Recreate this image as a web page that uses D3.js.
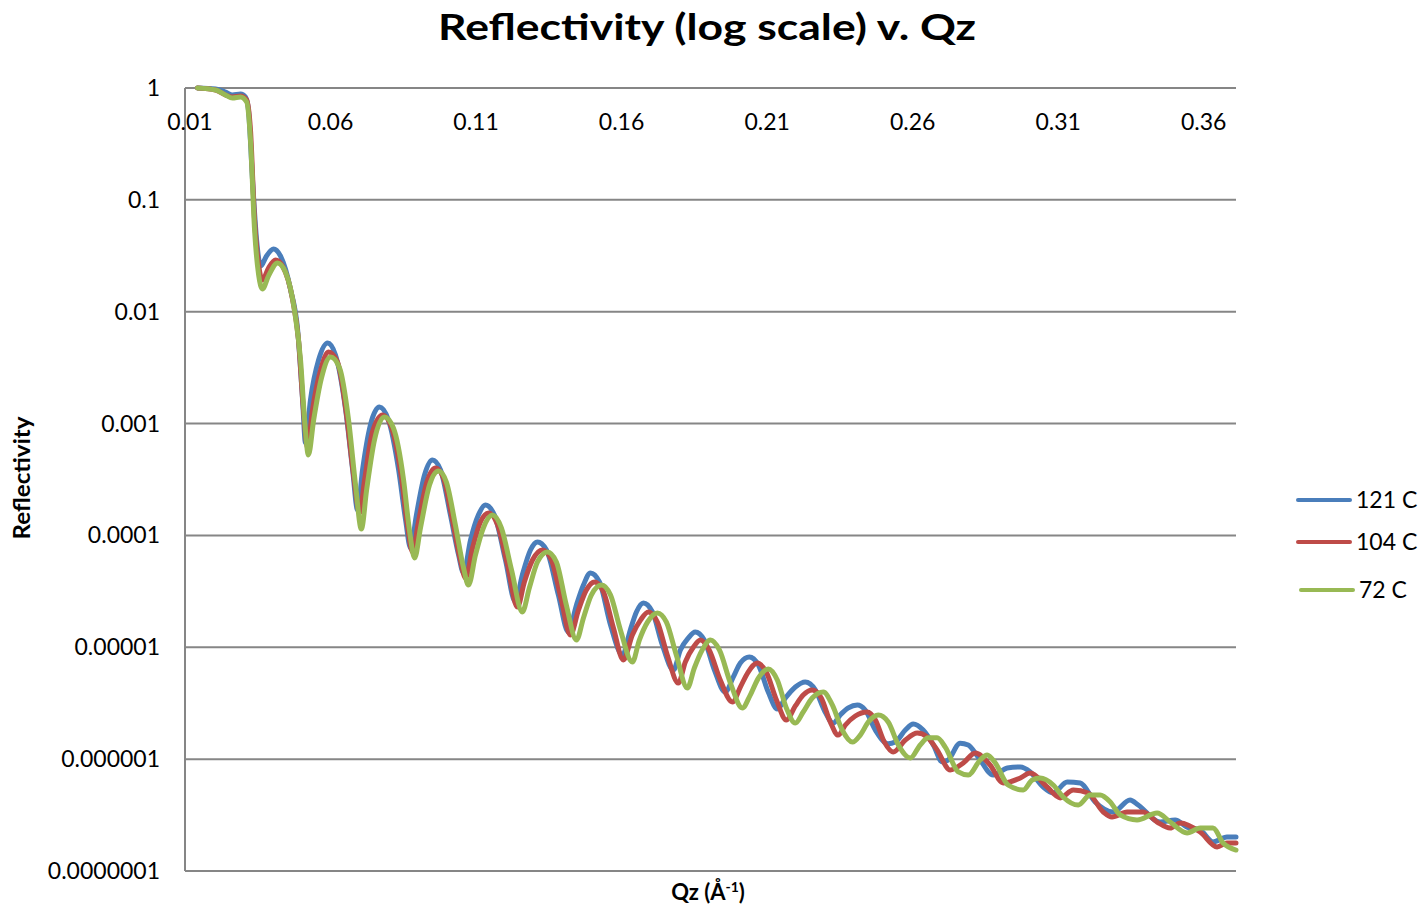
<!DOCTYPE html>
<html>
<head>
<meta charset="utf-8">
<script src="https://cdn.jsdelivr.net/npm/d3@7/dist/d3.min.js"></script>
<style>
    body { margin: 0; background: #fff; }
    text { font-family: Lato, "Open Sans", sans-serif; fill: #000; }
</style>
</head>
<body>
<div id="chart"></div>
<script>
    const width = 1424, height = 907;

    // series: [Qz, reflectivity]
    const seriesNames = ["121 C", "104 C", "72 C"];
    const seriesColors = ["#4a7ebb", "#be4b48", "#98b954"];

    const data121 = [
        [0.0143,1],[0.0205,0.98],[0.0239,0.92],[0.0263,0.866],[0.0291,0.884],[0.0308,0.831],[0.0318,0.636],
        [0.0332,0.1505],[0.0346,0.0438],[0.0360,0.0256],[0.0380,0.0315],[0.0404,0.0364],[0.0428,0.0315],
        [0.0463,0.01564],[0.0487,0.00686],[0.0504,0.001625],[0.0514,0.000671],[0.0531,0.001625],[0.0559,0.0037],
        [0.0590,0.00525],[0.0617,0.0041],[0.0652,0.001322],[0.0676,0.000385],[0.0693,0.000169],[0.0710,0.000385],
        [0.0737,0.000971],[0.0768,0.001406],[0.0799,0.001076],[0.0834,0.000385],[0.0858,0.000137],[0.0875,7.72e-5],
        [0.0895,0.000152],[0.0923,0.000347],[0.0950,0.000472],[0.0978,0.000385],[0.1012,0.000152],[0.1040,6.69e-5],
        [0.1057,4.62e-5],[0.1081,9.10e-5],[0.1108,0.000152],[0.1132,0.000187],[0.1163,0.000152],[0.1201,6.03e-5],
        [0.1235,2.54e-5],[0.1259,4.43e-5],[0.1287,7.41e-5],[0.1311,8.73e-5],[0.1342,7.41e-5],[0.1383,2.93e-5],
        [0.1417,1.37e-5],[0.1445,2.39e-5],[0.1469,3.60e-5],[0.1493,4.62e-5],[0.1524,3.84e-5],[0.1562,1.58e-5],
        [0.1603,8.53e-6],[0.1630,1.43e-5],[0.1651,2.07e-5],[0.1675,2.49e-5],[0.1706,2.07e-5],[0.1740,1.05e-5],
        [0.1778,6.27e-6],[0.1802,9.46e-6],[0.1829,1.21e-5],[0.1853,1.37e-5],[0.1884,1.16e-5],[0.1919,6.27e-6],
        [0.1956,3.98e-6],[0.1984,5.43e-6],[0.2008,7.24e-6],[0.2039,8.19e-6],[0.2070,6.95e-6],[0.2104,3.98e-6],
        [0.2135,2.81e-6],[0.2163,3.52e-6],[0.2197,4.41e-6],[0.2231,4.89e-6],[0.2266,4.15e-6],[0.2296,2.75e-6],
        [0.2327,2.10e-6],[0.2351,2.48e-6],[0.2379,2.87e-6],[0.2410,3.05e-6],[0.2437,2.75e-6],[0.2472,1.82e-6],
        [0.2516,1.37e-6],[0.2540,1.42e-6],[0.2575,1.82e-6],[0.2602,2.06e-6],[0.2636,1.82e-6],[0.2671,1.34e-6],
        [0.2702,9.43e-7],[0.2722,9.83e-7],[0.2763,1.39e-6],[0.2791,1.34e-6],[0.2825,1.045e-6],[0.2877,7.21e-7],
        [0.2925,8.34e-7],[0.2970,8.51e-7],[0.3004,7.68e-7],[0.3048,5.64e-7],[0.3083,4.98e-7],[0.3131,6.25e-7],
        [0.3176,6.12e-7],[0.3227,4.14e-7],[0.3289,3.37e-7],[0.3347,4.31e-7],[0.3375,3.89e-7],[0.3450,2.74e-7],
        [0.3502,2.86e-7],[0.3543,2.47e-7],[0.3588,2.32e-7],[0.3632,1.82e-7],[0.3680,2.01e-7],[0.3711,2.01e-7]
    ];

    const data104 = [
        [0.0143,1],[0.0205,0.96],[0.0239,0.866],[0.0263,0.831],[0.0291,0.848],[0.0312,0.781],[0.0325,0.421],
        [0.0339,0.0661],[0.0353,0.0262],[0.0366,0.0192],[0.0387,0.0246],[0.0411,0.0290],[0.0435,0.0256],
        [0.0470,0.01273],[0.0490,0.00559],[0.0507,0.001322],[0.0521,0.000618],[0.0538,0.001322],[0.0566,0.00301],
        [0.0593,0.00436],[0.0624,0.00355],[0.0655,0.001193],[0.0679,0.000347],[0.0700,0.000159],[0.0717,0.000313],
        [0.0744,0.000841],[0.0779,0.001193],[0.0810,0.000913],[0.0844,0.000326],[0.0864,0.000124],[0.0882,7.11e-5],
        [0.0902,0.000132],[0.0930,0.000294],[0.0961,0.000401],[0.0988,0.000326],[0.1019,0.000137],[0.1046,6.03e-5],
        [0.1064,4.16e-5],[0.1088,7.72e-5],[0.1115,0.000132],[0.1143,0.000159],[0.1174,0.000124],[0.1208,5.44e-5],
        [0.1242,2.29e-5],[0.1266,3.84e-5],[0.1294,6.03e-5],[0.1328,7.41e-5],[0.1359,6.03e-5],[0.1393,2.65e-5],
        [0.1424,1.29e-5],[0.1452,2.16e-5],[0.1479,3.25e-5],[0.1507,3.84e-5],[0.1538,3.12e-5],[0.1572,1.49e-5],
        [0.1606,7.70e-6],[0.1637,1.29e-5],[0.1665,1.75e-5],[0.1692,2.07e-5],[0.1723,1.68e-5],[0.1757,8.53e-6],
        [0.1795,4.79e-6],[0.1819,7.39e-6],[0.1847,1.006e-5],[0.1871,1.16e-5],[0.1901,9.46e-6],[0.1939,5.10e-6],
        [0.1981,3.24e-6],[0.2008,4.41e-6],[0.2035,6.01e-6],[0.2066,7.24e-6],[0.2097,6.01e-6],[0.2132,3.38e-6],
        [0.2166,2.24e-6],[0.2197,2.99e-6],[0.2224,3.74e-6],[0.2255,4.15e-6],[0.2286,3.52e-6],[0.2317,2.15e-6],
        [0.2344,1.64e-6],[0.2369,2.02e-6],[0.2403,2.43e-6],[0.2444,2.64e-6],[0.2472,2.24e-6],[0.2503,1.42e-6],
        [0.2533,1.16e-6],[0.2575,1.48e-6],[0.2616,1.71e-6],[0.2650,1.58e-6],[0.2684,1.21e-6],[0.2729,8.00e-7],
        [0.2774,9.24e-7],[0.2815,1.135e-6],[0.2866,8.87e-7],[0.2911,6.12e-7],[0.2970,6.78e-7],[0.3004,7.52e-7],
        [0.3062,5.64e-7],[0.3107,4.50e-7],[0.3152,5.30e-7],[0.3203,4.98e-7],[0.3255,3.37e-7],[0.3285,3.04e-7],
        [0.3337,3.37e-7],[0.3392,3.37e-7],[0.3440,2.74e-7],[0.3485,2.42e-7],[0.3519,2.69e-7],[0.3588,2.23e-7],
        [0.3646,1.64e-7],[0.3680,1.78e-7],[0.3711,1.78e-7]
    ];

    const data72 = [
        [0.0143,1],[0.0205,0.96],[0.0239,0.866],[0.0263,0.814],[0.0291,0.831],[0.0312,0.750],[0.0325,0.343],
        [0.0339,0.0538],[0.0353,0.0213],[0.0366,0.01596],[0.0387,0.0209],[0.0418,0.0273],[0.0445,0.0226],
        [0.0476,0.01036],[0.0497,0.0037],[0.0511,0.001076],[0.0524,0.000524],[0.0542,0.001076],[0.0569,0.00256],
        [0.0600,0.00394],[0.0631,0.00314],[0.0662,0.001076],[0.0686,0.000282],[0.0706,0.0001142],[0.0724,0.000255],
        [0.0751,0.000713],[0.0785,0.001145],[0.0816,0.000913],[0.0851,0.000313],[0.0871,0.0001118],[0.0889,6.29e-5],
        [0.0909,0.0001166],[0.0940,0.000282],[0.0971,0.000377],[0.0998,0.0003],[0.1029,0.000124],[0.1057,5.12e-5],
        [0.1074,3.60e-5],[0.1098,6.69e-5],[0.1125,0.0001166],[0.1156,0.000152],[0.1187,0.0001166],[0.1222,4.91e-5],
        [0.1259,2.07e-5],[0.1283,3.39e-5],[0.1311,5.79e-5],[0.1345,7.11e-5],[0.1376,5.79e-5],[0.1410,2.39e-5],
        [0.1445,1.16e-5],[0.1469,1.83e-5],[0.1496,2.93e-5],[0.1531,3.60e-5],[0.1562,2.93e-5],[0.1596,1.43e-5],
        [0.1637,7.39e-6],[0.1661,1.16e-5],[0.1689,1.68e-5],[0.1723,2.03e-5],[0.1754,1.68e-5],[0.1788,8.53e-6],
        [0.1826,4.33e-6],[0.1850,6.53e-6],[0.1877,9.46e-6],[0.1905,1.16e-5],[0.1936,9.46e-6],[0.1974,4.79e-6],
        [0.2015,2.87e-6],[0.2042,3.74e-6],[0.2070,5.31e-6],[0.2104,6.40e-6],[0.2135,5.10e-6],[0.2166,2.87e-6],
        [0.2197,2.10e-6],[0.2224,2.64e-6],[0.2255,3.52e-6],[0.2293,3.98e-6],[0.2324,3.05e-6],[0.2358,1.82e-6],
        [0.2393,1.42e-6],[0.2420,1.64e-6],[0.2448,2.15e-6],[0.2482,2.48e-6],[0.2516,2.15e-6],[0.2551,1.34e-6],
        [0.2592,1.024e-6],[0.2626,1.34e-6],[0.2654,1.55e-6],[0.2684,1.55e-6],[0.2712,1.28e-6],[0.2757,7.68e-7],
        [0.2791,7.21e-7],[0.2832,9.83e-7],[0.2856,1.09e-6],[0.2884,9.24e-7],[0.2928,5.87e-7],[0.2980,5.30e-7],
        [0.3011,6.51e-7],[0.3038,6.78e-7],[0.3083,5.87e-7],[0.3117,4.59e-7],[0.3169,3.89e-7],[0.3210,4.78e-7],
        [0.3244,4.78e-7],[0.3279,4.14e-7],[0.3313,3.17e-7],[0.3371,2.86e-7],[0.3440,3.30e-7],[0.3485,2.74e-7],
        [0.3543,2.19e-7],[0.3588,2.42e-7],[0.3632,2.42e-7],[0.3667,1.78e-7],[0.3711,1.54e-7]
    ];

    const seriesData = [data121, data104, data72];

    // axis ticks
    const xTicks = [0.01, 0.06, 0.11, 0.16, 0.21, 0.26, 0.31, 0.36];
    const yTicks = [1, 1e-1, 1e-2, 1e-3, 1e-4, 1e-5, 1e-6, 1e-7];
    const yTickLabels = ["1", "0.1", "0.01", "0.001", "0.0001", "0.00001", "0.000001", "0.0000001"];

    const plotLeft = 185, plotRight = 1236, plotTop = 88, plotBottom = 871;

    const svg = d3.select("#chart")
        .append("svg")
        .attr("width", width)
        .attr("height", height);

    const x = d3.scaleLinear().domain([0.01, 0.3711]).range([plotLeft, plotRight]);
    const y = d3.scaleLog().domain([1e-7, 1]).range([plotBottom, plotTop]);

    // horizontal gridlines
    svg.append("g")
        .selectAll("line")
        .data(yTicks)
        .enter().append("line")
        .attr("x1", plotLeft)
        .attr("x2", plotRight)
        .attr("y1", d => y(d))
        .attr("y2", d => y(d))
        .attr("stroke", "#868686")
        .attr("stroke-width", 2);

    // y axis line
    svg.append("line")
        .attr("x1", plotLeft).attr("x2", plotLeft)
        .attr("y1", plotTop).attr("y2", plotBottom)
        .attr("stroke", "#868686")
        .attr("stroke-width", 2);

    // y tick labels
    svg.append("g")
        .selectAll("text")
        .data(yTicks)
        .enter().append("text")
        .attr("x", 160)
        .attr("y", d => y(d) + 8)
        .attr("text-anchor", "end")
        .style("font-size", "23px")
        .text((d, i) => yTickLabels[i]);

    // x tick labels (axis crosses at R = 1, labels sit under the top line)
    svg.append("g")
        .selectAll("text")
        .data(xTicks)
        .enter().append("text")
        .attr("x", (d, i) => x(d) + (i === 0 ? 5 : 0))
        .attr("y", 130)
        .attr("text-anchor", "middle")
        .style("font-size", "23px")
        .text(d => d3.format(".2f")(d));

    const line = d3.line()
        .x(d => x(d[0]))
        .y(d => y(d[1]))
        .curve(d3.curveMonotoneX);

    svg.append("g")
        .selectAll("path")
        .data(seriesData)
        .enter().append("path")
        .attr("d", line)
        .attr("fill", "none")
        .attr("stroke", (d, i) => seriesColors[i])
        .attr("stroke-width", 5)
        .attr("stroke-linejoin", "round")
        .attr("stroke-linecap", "round");

    // titles
    svg.append("text")
        .attr("x", 707)
        .attr("y", 40)
        .attr("text-anchor", "middle")
        .attr("textLength", 538)
        .attr("lengthAdjust", "spacingAndGlyphs")
        .style("font-size", "36px")
        .style("font-weight", "bold")
        .text("Reflectivity (log scale) v. Qz");

    svg.append("text")
        .attr("transform", "translate(30,478) rotate(-90)")
        .attr("text-anchor", "middle")
        .attr("textLength", 123)
        .attr("lengthAdjust", "spacingAndGlyphs")
        .style("font-size", "22px")
        .style("font-weight", "bold")
        .text("Reflectivity");

    const xTitle = svg.append("text")
        .attr("x", 708)
        .attr("y", 900)
        .attr("text-anchor", "middle")
        .style("font-size", "22px")
        .style("font-weight", "bold");
    xTitle.append("tspan").text("Qz (Å");
    xTitle.append("tspan").attr("dy", -8).style("font-size", "14px").text("-1");
    xTitle.append("tspan").attr("dy", 8).text(")");

    // legend
    const legendY = [500, 542, 590];
    const legendX = [1298, 1298, 1301];
    const legend = svg.append("g")
        .selectAll("g")
        .data(seriesNames)
        .enter().append("g")
        .attr("transform", (d, i) => `translate(${legendX[i]},${legendY[i]})`);

    legend.append("line")
        .attr("x1", 0).attr("x2", 52)
        .attr("stroke", (d, i) => seriesColors[i])
        .attr("stroke-width", 4)
        .attr("stroke-linecap", "round");

    legend.append("text")
        .attr("x", 58)
        .attr("y", 8)
        .style("font-size", "23px")
        .text(d => d);
</script>
</body>
</html>
